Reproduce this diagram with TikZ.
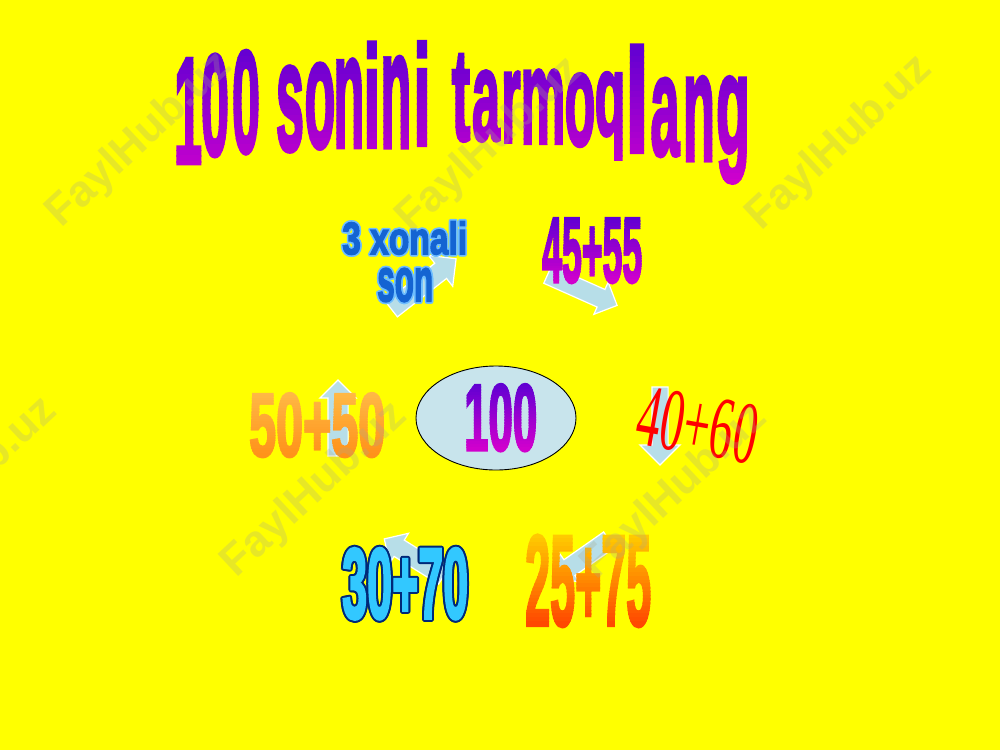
\documentclass[tikz,border=0pt]{standalone}
\usepackage{fontspec}
\usepackage{graphicx}
\usetikzlibrary{shapes.arrows,shapes.geometric,calc}
\setmainfont{Liberation Sans}
\newfontfamily\imp{Liberation Sans}[BoldFeatures={FakeBold=3}]
\newfontfamily\wmfont{Liberation Sans}
\newfontfamily\tms{Liberation Serif}
\definecolor{bg}{RGB}{255,255,0}
\definecolor{purpT}{RGB}{95,0,210}
\definecolor{purpB}{RGB}{210,0,205}
\definecolor{arrowfill}{RGB}{183,222,232}
\definecolor{ellfill}{RGB}{200,228,236}
\definecolor{sonblue}{RGB}{20,100,210}
\definecolor{songlow}{RGB}{110,190,255}
\definecolor{cyanfill}{RGB}{50,200,255}
\definecolor{navy}{RGB}{0,40,120}
\definecolor{oraT}{RGB}{255,185,70}
\definecolor{oraB}{RGB}{255,145,25}
\definecolor{redT}{RGB}{255,205,0}
\definecolor{redB}{RGB}{255,70,0}
\definecolor{wm}{RGB}{170,170,140}

\newcommand\gradbands[5]{%
  \foreach \gi in {0,...,23}{%
    \pgfmathsetmacro\gya{\gi==0 ? -100 : #1+(#2-#1)*\gi/24}%
    \pgfmathsetmacro\gyb{\gi==23 ? 900 : #1+(#2-#1)*(\gi+1)/24+0.7}%
    \pgfmathsetmacro\gpc{100-100*(\gi+0.5)/24}%
    \colorlet{gc}{#3!\gpc!#4}%
    \begin{scope}
      \clip (-20,\gya) rectangle (1020,\gyb);
      #5
    \end{scope}
  }}

% char / x centre / baseline / horizontal scale / vertical scale
\newcommand\titlechars{%
  \foreach \ch/\cx/\cb/\csx/\csy in {1/188/163/0.5/1.51, 0/215/155/0.5/1.44, 0/246/152/0.5/1.45,
      s/290/150/0.5/1.55, o/320/147/0.5/1.55, n/349/147/0.5/1.62, i/372/147/0.6/1.44, n/396/147/0.5/1.67, i/422/145/0.6/1.42,
      t/461/140/0.55/1.31, a/486/140/0.5/1.28, r/511/142/0.5/1.30, m/543/143/0.5/1.35, o/580/145/0.5/1.32,
      q/610/135/0.5/1.16, l/637/152/0.85/1.47, a/665/155/0.52/1.42, n/699/160/0.52/1.54, g/733/153/0.55/1.41}{%
    \node[anchor=base,inner sep=0,text=gc] (t-\cx) at (\cx,\cb) {\scalebox{\csx}[\csy]{\imp\bfseries\fontsize{100}{100}\selectfont\ch}};
  }}

\tikzset{
  blockarrow/.style n args={3}{single arrow, draw=white, line width=1.2pt, fill=arrowfill,
    inner xsep=0pt, inner ysep=#2/2, minimum height=#1, single arrow head extend=#3},
  wmark/.style={rotate=43, text=wm, text opacity=0.28, inner sep=0,
    font=\wmfont\bfseries\fontsize{44}{44}\selectfont},
  txt/.style={anchor=north west, inner sep=0}
}

\begin{document}
\begin{tikzpicture}[x=1pt,y=-1pt]
\useasboundingbox (0,0) rectangle (1000,750);
\fill[bg] (0,0) rectangle (1000,750);
\clip (0,0) rectangle (1000,750);

% arrows
\node[blockarrow={82}{18}{10}, rotate=38] (a1) at (420,287) {};
\node[blockarrow={76}{18}{8}, rotate=-24] (a2) at (578,288) {};
\node[blockarrow={78}{15}{12}, rotate=-90] (a3) at (660,422) {};
\node[blockarrow={66}{18}{8}, rotate=-145] (a4) at (586,556) {};
\node[blockarrow={70}{18}{8}, rotate=148] (a5) at (418,560) {};
\node[blockarrow={76}{19}{8}, rotate=90] (a6) at (338,423) {};

% central ellipse
\node[ellipse, draw=black, line width=0.9pt, fill=ellfill, minimum width=160pt, minimum height=104pt] (ell) at (496,418) {};

% title
\gradbands{45}{185}{purpT}{purpB}{\titlechars}

% 45+55
\gradbands{218}{282}{purpT}{purpB}{\node[txt,text=gc] (t4555) at (542,218) {\resizebox{100pt}{64pt}{\imp\bfseries 45+55}};}

% 100
\gradbands{384}{450}{purpT}{purpB}{\node[txt,text=gc] (t100) at (464,384) {\resizebox{73pt}{66pt}{\imp\bfseries 100}};}

% 50+50
\gradbands{393}{456}{oraT}{oraB}{\node[txt,text=gc] (t5050) at (249,393) {\resizebox{136pt}{63pt}{\imp\bfseries 50+50}};}

% 25+75
\gradbands{535}{625}{redT}{redB}{\node[txt,text=gc] (t2575) at (525,535) {\resizebox{126pt}{90pt}{\imp\bfseries 25+75}};}

% 30+70 outlined
\foreach \a in {0,30,...,330}{
  \node[txt,text=navy] (o3070-\a) at ($(342,548)+(\a:2)$) {\resizebox{126pt}{70pt}{\imp\bfseries 30+70}};
}
\node[txt,text=cyanfill] (t3070) at (342,548) {\resizebox{126pt}{70pt}{\imp\bfseries 30+70}};

% 3 xonali son
\foreach \a in {0,30,...,330}{
  \node[txt,text=songlow] (o3x-\a) at ($(342,221)+(\a:1.6)$) {\resizebox{125pt}{33pt}{\imp\bfseries 3 xonali}};
  \node[txt,text=songlow] (oson-\a) at ($(377,268)+(\a:1.6)$) {\resizebox{56pt}{33pt}{\imp\bfseries son}};
}
\node[txt,text=sonblue] (t3x) at (342,221) {\resizebox{125pt}{33pt}{\imp\bfseries 3 xonali}};
\node[txt,text=sonblue] (tson) at (377,268) {\resizebox{56pt}{33pt}{\imp\bfseries son}};

% 40+60
\node[rotate=-10, inner sep=0, text=red] (t4060) at (698,425) {\resizebox{120pt}{59pt}{\tms 40+60}};

% watermarks
\node[wmark] (w1) at (140,140) {FaylHub.uz};
\node[wmark] (w2) at (490,145) {FaylHub.uz};
\node[wmark] (w3) at (840,143) {FaylHub.uz};
\node[wmark] (w4) at (-35,485) {FaylHub.uz};
\node[wmark] (w5) at (315,490) {FaylHub.uz};
\node[wmark] (w6) at (675,492) {FaylHub.uz};
\end{tikzpicture}
\end{document}
